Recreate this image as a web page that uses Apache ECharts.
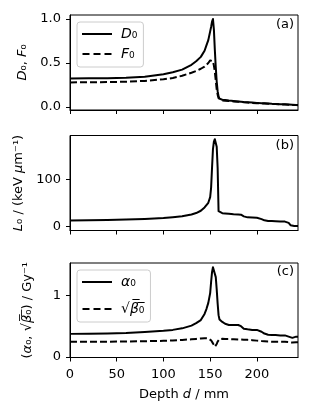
<!DOCTYPE html>
<html>
<head>
<meta charset="utf-8">
<script src="https://cdn.jsdelivr.net/npm/echarts@6/dist/echarts.min.js"></script>
<style>
html,body{margin:0;padding:0;background:#fff;}
#chart{width:313px;height:413px;}
</style>
</head>
<body>
<div id="chart"></div>
<script>
const depth      = [0, 20, 40, 60, 80, 100, 110, 120, 130, 135, 140, 144, 146, 148, 150, 151, 152, 153, 154, 155, 156, 157, 158, 159, 160, 161, 163, 166, 170, 175, 180, 183, 186, 190, 195, 200, 205, 208, 212, 216, 220, 225, 230, 234, 236, 238, 240, 242, 244];
const doseD0     = [0.325, 0.326, 0.328, 0.332, 0.345, 0.373, 0.395, 0.425, 0.48, 0.52, 0.57, 0.64, 0.70, 0.76, 0.86, 0.91, 0.97, 1.0, 0.88, 0.65, 0.45, 0.29, 0.18, 0.12, 0.095, 0.088, 0.083, 0.079, 0.074, 0.069, 0.064, 0.061, 0.058, 0.055, 0.051, 0.047, 0.044, 0.042, 0.040, 0.037, 0.035, 0.032, 0.030, 0.028, 0.027, 0.026, 0.025, 0.024, 0.023];
const fluenceF0  = [0.28, 0.281, 0.283, 0.288, 0.297, 0.315, 0.33, 0.355, 0.39, 0.41, 0.435, 0.46, 0.48, 0.50, 0.53, 0.545, 0.545, 0.52, 0.47, 0.40, 0.30, 0.20, 0.14, 0.10, 0.085, 0.078, 0.075, 0.072, 0.068, 0.064, 0.060, 0.057, 0.054, 0.051, 0.047, 0.044, 0.041, 0.039, 0.037, 0.035, 0.033, 0.030, 0.028, 0.026, 0.025, 0.024, 0.023, 0.022, 0.021];
const letL0      = [12.3, 12.6, 13.2, 14, 15.3, 17.3, 19, 21, 25, 28, 33, 40, 45, 50, 62, 82, 125, 165, 181, 186, 183, 170, 125, 32, 28.5, 28.3, 27.8, 27.2, 26.5, 25.5, 25, 24.5, 21, 18.8, 18.6, 18, 15, 12.5, 11, 10.8, 10.5, 10.2, 9.8, 7, 2, 0.5, 0.3, 0.3, 0.3];
const alpha0     = [0.375, 0.377, 0.382, 0.39, 0.405, 0.425, 0.44, 0.465, 0.51, 0.55, 0.60, 0.70, 0.78, 0.88, 1.04, 1.22, 1.38, 1.46, 1.48, 1.44, 1.30, 1.10, 0.87, 0.68, 0.61, 0.59, 0.57, 0.54, 0.52, 0.52, 0.52, 0.50, 0.46, 0.45, 0.44, 0.44, 0.41, 0.38, 0.36, 0.355, 0.355, 0.35, 0.35, 0.33, 0.31, 0.31, 0.32, 0.33, 0.33];
const sqrtBeta0  = [0.245, 0.246, 0.248, 0.25, 0.255, 0.262, 0.268, 0.276, 0.287, 0.293, 0.30, 0.305, 0.305, 0.30, 0.285, 0.27, 0.25, 0.22, 0.19, 0.165, 0.17, 0.21, 0.25, 0.28, 0.29, 0.295, 0.295, 0.29, 0.29, 0.288, 0.285, 0.283, 0.28, 0.278, 0.272, 0.265, 0.258, 0.255, 0.25, 0.248, 0.247, 0.246, 0.245, 0.24, 0.235, 0.233, 0.235, 0.237, 0.238];

const xTicks  = [0, 50, 100, 150, 200];
const yTicksA = [0, 0.5, 1.0];
const yTicksB = [0, 100];
const yTicksC = [0, 1];

const FONT = 'DejaVu Sans';
const pair = arr => depth.map((d, i) => [d, arr[i]]);

const gridsPos = [
  {left: 70, width: 228, top: 15, height: 95},
  {left: 70, width: 228, top: 135.5, height: 95},
  {left: 70, width: 228, top: 263, height: 94.5}
];

const italic = {fontStyle: 'italic', fontFamily: FONT, fontSize: 13, color: '#000'};
const plain = {fontFamily: FONT, fontSize: 13, color: '#000'};

function xAxis(i, showLabels) {
  return {
    type: 'value', gridIndex: i, min: 0, max: 244,
    splitLine: {show: false},
    axisLine: {show: true, onZero: false, lineStyle: {color: '#000', width: 1}},
    axisTick: {show: true, length: 4, inside: false, customValues: xTicks, lineStyle: {color: '#000'}},
    axisLabel: {show: showLabels, customValues: xTicks, margin: 11, color: '#000', fontFamily: FONT, fontSize: 13},
    name: showLabels ? '{n|Depth }{i|d}{n| / mm}' : '',
    nameLocation: 'middle', nameGap: 31,
    nameTextStyle: {rich: {i: italic, n: plain}}
  };
}
function yAxis(i, min, max, ticks, fmt, name, gap) {
  return {
    type: 'value', gridIndex: i, min: min, max: max,
    splitLine: {show: false},
    axisLine: {show: true, onZero: false, lineStyle: {color: '#000', width: 1}},
    axisTick: {show: true, length: 4, inside: false, customValues: ticks, lineStyle: {color: '#000'}},
    axisLabel: {customValues: ticks, margin: 9, color: '#000', fontFamily: FONT, fontSize: 13, formatter: fmt},
    name: name, nameLocation: 'middle', nameGap: gap, nameRotate: 90,
    nameTextStyle: {rich: {i: italic, n: plain}}
  };
}
function line(name, arr, i, dashed) {
  return {
    name: name, type: 'line', xAxisIndex: i, yAxisIndex: i,
    data: pair(arr), symbol: 'none', showSymbol: false, silent: true,
    itemStyle: {color: '#000'},
    lineStyle: {color: '#000', width: 2, join: 'round', cap: 'butt', type: dashed ? [7, 3] : 'solid'}
  };
}
const SOLID_ICON  = 'path://M0,0H30V2H0Z';
const DASHED_ICON = 'path://M0,0H7V2H0Z M11,0H18V2H11Z M22,0H29V2H22Z';
const legendNames = {
  D0: '{i|D}{n|₀}', F0: '{i|F}{n|₀}',
  a0: '{i|α}{n|₀}', b0: '{n|√}{i|β̅}{n|₀̅}'
};
function legend(names, top, gap) {
  return {
    data: [{name: names[0], icon: SOLID_ICON}, {name: names[1], icon: DASHED_ICON}],
    orient: 'vertical', left: 77, top: top,
    itemWidth: 30, itemHeight: 2, itemGap: gap,
    padding: [5, 6, 6, 5],
    borderColor: '#cccccc', borderWidth: 1, borderRadius: 3,
    backgroundColor: 'rgba(255,255,255,0.8)',
    formatter: n => legendNames[n],
    textStyle: {padding: [0, 0, 0, 4], lineHeight: 14,
      rich: {i: Object.assign({}, italic, {fontSize: 14, lineHeight: 14}), n: Object.assign({}, plain, {fontSize: 14, lineHeight: 14})}}
  };
}
const letterStyle = {fontFamily: FONT, fontSize: 13, fill: '#000', align: 'right', verticalAlign: 'middle'};

const option = {
  animation: false,
  backgroundColor: '#fff',
  grid: gridsPos.map(g => Object.assign({show: true, borderColor: '#000', borderWidth: 1, backgroundColor: 'transparent'}, g)),
  xAxis: [xAxis(0, false), xAxis(1, false), xAxis(2, true)],
  yAxis: [
    yAxis(0, -0.034, 1.046, yTicksA, v => v.toFixed(1), '{i|D}{n|₀, }{i|F}{n|₀}', 35),
    yAxis(1, -9.3, 194, yTicksB, v => String(v), '{i|L}{n|₀ / (keV }{i|μ}{n|m⁻¹)}', 39),
    yAxis(2, -0.01, 1.53, yTicksC, v => String(v), '{n|(}{i|α}{n|₀, √}{i|β̅}{n|₀̅) / Gy⁻¹}', 36)
  ],
  legend: [legend(['D0', 'F0'], 22, 6), legend(['a0', 'b0'], 270, 13)],
  series: [
    line('D0', doseD0, 0, false),
    line('F0', fluenceF0, 0, true),
    line('L0', letL0, 1, false),
    line('a0', alpha0, 2, false),
    line('b0', sqrtBeta0, 2, true)
  ],
  graphic: [
    {type: 'text', x: 294, y: 25, style: Object.assign({text: '(a)'}, letterStyle)},
    {type: 'text', x: 294, y: 146, style: Object.assign({text: '(b)'}, letterStyle)},
    {type: 'text', x: 294, y: 272, style: Object.assign({text: '(c)'}, letterStyle)}
  ]
};
const chart = echarts.init(document.getElementById('chart'), null, {renderer: 'canvas'});
chart.setOption(option);
</script>
</body>
</html>
